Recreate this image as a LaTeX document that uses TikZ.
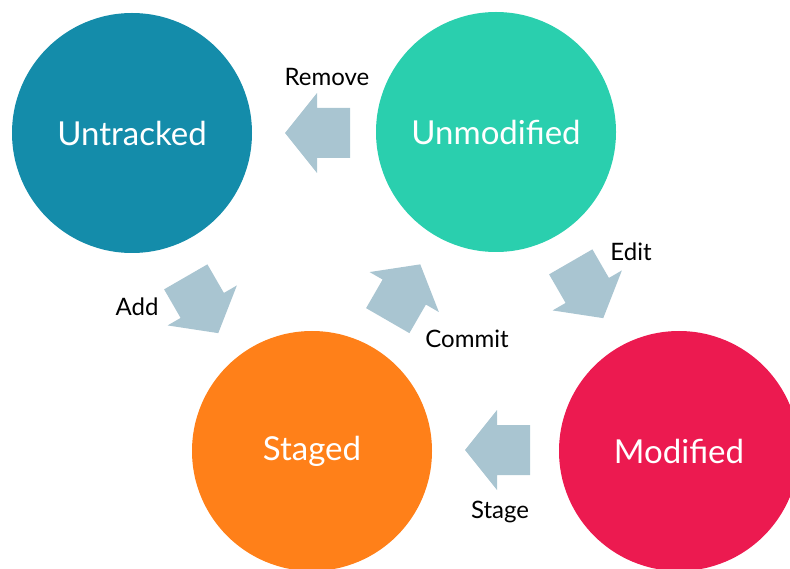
\documentclass[tikz,border=0pt]{standalone}
\usepackage{fontspec}
\setmainfont{Lato}

\definecolor{untrackedblue}{RGB}{20,140,170}
\definecolor{unmodgreen}{RGB}{42,207,174}
\definecolor{stagedorange}{RGB}{255,128,25}
\definecolor{modifiedred}{RGB}{236,26,80}
\definecolor{flowgray}{RGB}{169,197,209}

\tikzset{
  state/.style={circle, fill=#1, draw=none, minimum size=240pt, inner sep=0pt,
    text=white, font=\fontsize{33}{38}\selectfont},
  lbl/.style={text=black, font=\fontsize{24}{28}\selectfont, inner sep=0pt},
  flowfill/.style={fill=flowgray, draw=none}
}

% block arrow centred on (#1), pointing in direction #2 (degrees)
\newcommand\flowarrow[3]{%
  \coordinate (#1) at (#2);
  \begin{scope}[shift={(#1)}, rotate=#3]
    \fill[flowfill] (-32.5,-25) -- (0.5,-25) -- (0.5,-40) -- (32.5,0)
      -- (0.5,40) -- (0.5,25) -- (-32.5,25) -- cycle;
  \end{scope}}

\begin{document}
\begin{tikzpicture}[x=1pt, y=-1pt]
  \useasboundingbox (0,0) rectangle (790,569);
  \clip (0,0) rectangle (790,569);

  % file states
  \node[state=untrackedblue] (untracked) at (132,133) {Untracked};
  \node[state=unmodgreen]    (unmodified) at (496,132) {Unmodified};
  \node[state=stagedorange]  (staged) at (312,451) {Staged};
  \node[state=modifiedred]   (modified) at (679,451) {Modified};

  % transitions
  \flowarrow{remove}{317.5,133}{180}
  \flowarrow{add}{202,305}{-60}
  \flowarrow{commit}{404,292.5}{60}
  \flowarrow{edit}{587,290}{-60}
  \flowarrow{stage}{497.5,450}{180}

  % transition labels
  \node[lbl] (removelbl) at (327,77) {Remove};
  \node[lbl] (addlbl)    at (137,307) {Add};
  \node[lbl] (commitlbl) at (467,339) {Commit};
  \node[lbl] (editlbl)   at (631,252) {Edit};
  \node[lbl] (stagelbl)  at (500,512) {Stage};
\end{tikzpicture}
\end{document}
